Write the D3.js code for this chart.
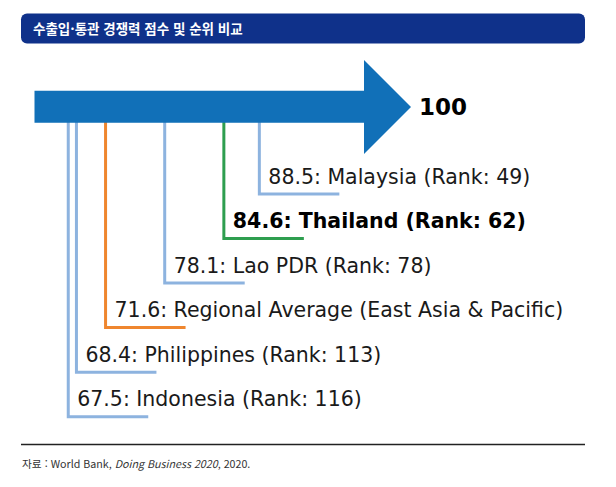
<!DOCTYPE html>
<html lang="ko">
<head>
  <meta charset="UTF-8">
  <title>수출입·통관 경쟁력 점수 및 순위 비교</title>
  <style>
    body { margin: 0; background: #fff; }
    .label { font-family: "DejaVu Sans", sans-serif; font-size: 20.5px; fill: #1a1a1a; }
    .label.focus { font-weight: bold; fill: #000; }
    .title { font-family: "Noto Sans CJK KR", sans-serif; font-size: 13.5px; font-weight: bold; fill: #fff; }
    .source { font-family: "Noto Sans CJK KR", sans-serif; font-size: 10.7px; fill: #333; }
  </style>
</head>
<body>
  <svg width="616" height="487"></svg>
  <script src="https://cdn.jsdelivr.net/npm/d3@7"></script>
  <script>
    // data, top to bottom
    var names = ["Malaysia", "Thailand", "Lao PDR", "Regional Average (East Asia & Pacific)", "Philippines", "Indonesia"];
    var scores = [88.5, 84.6, 78.1, 71.6, 68.4, 67.5];
    var ranks = [49, 62, 78, null, 113, 116];
    var kinds = ["peer", "focus", "peer", "average", "peer", "peer"];
    var maxScore = 100;

    var svg = d3.select("svg");

    var x = d3.scaleLinear().domain([60, 100]).range([0, 364]);
    var y = d3.scalePoint().domain(names).range([194, 416.7]);
    var color = d3.scaleOrdinal()
      .domain(["peer", "focus", "average"])
      .range(["#8db3df", "#2e9e4f", "#ef862e"]);

    // title bar
    svg.append("rect")
      .attr("x", 21).attr("y", 13.5)
      .attr("width", 564).attr("height", 30)
      .attr("rx", 6)
      .attr("fill", "#0f318a");
    svg.append("text")
      .attr("class", "title")
      .attr("x", 33).attr("y", 33.5)
      .text("수출입·통관 경쟁력 점수 및 순위 비교");

    var rows = names.map(function(n, i) {
      return {name: n, score: scores[i], rank: ranks[i], kind: kinds[i]};
    });

    // leader lines (under the arrow)
    svg.selectAll(".leader")
      .data(rows)
      .enter()
      .append("path")
      .attr("class", "leader")
      .attr("fill", "none")
      .attr("stroke", function(d) { return color(d.kind); })
      .attr("stroke-width", 3)
      .attr("d", function(d) {
        var x0 = x(d.score), y0 = y(d.name);
        return "M" + x0 + ",112V" + y0 + "H" + (x0 + 80);
      });

    // arrow
    var shaftTop = 90.7, shaftBot = 122.7, headTop = 60, headBot = 154;
    var x100 = x(maxScore);
    svg.append("path")
      .attr("fill", "#1170b8")
      .attr("d", "M34.5," + shaftTop + "H" + x100 + "V" + headTop +
        "L" + (x100 + 47) + "," + (headTop + headBot) / 2 +
        "L" + x100 + "," + headBot + "V" + shaftBot + "H34.5Z");
    svg.append("text")
      .attr("x", x100 + 55).attr("y", 114.5)
      .style("font-family", "DejaVu Sans, sans-serif")
      .style("font-size", "23px")
      .style("font-weight", "bold")
      .text(maxScore);

    // labels
    svg.selectAll(".label")
      .data(rows)
      .enter()
      .append("text")
      .attr("class", function(d) { return "label " + d.kind; })
      .attr("x", function(d) { return x(d.score) + 9; })
      .attr("y", function(d) { return y(d.name) - 10.5; })
      .text(function(d) {
        return d.score.toFixed(1) + ": " + d.name + (d.rank ? " (Rank: " + d.rank + ")" : "");
      });

    // footer
    svg.append("line")
      .attr("x1", 21).attr("x2", 585)
      .attr("y1", 444.5).attr("y2", 444.5)
      .attr("stroke", "#222").attr("stroke-width", 1.3);
    var src = svg.append("text").attr("class", "source").attr("x", 22).attr("y", 468);
    src.append("tspan").text("자료 : World Bank, ");
    src.append("tspan").style("font-style", "italic").text("Doing Business 2020");
    src.append("tspan").text(", 2020.");
  </script>
</body>
</html>
